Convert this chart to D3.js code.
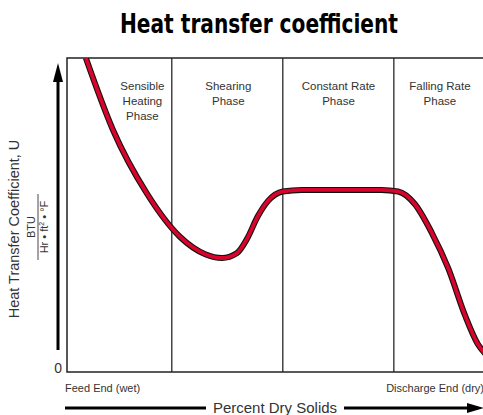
<!DOCTYPE html>
<html>
<head>
<meta charset="utf-8">
<script src="https://cdn.jsdelivr.net/npm/d3@7"></script>
<style>
  body { margin: 0; background: #fff; }
  text { font-family: "Liberation Sans", Arial, sans-serif; }
</style>
</head>
<body>
<script>
// chart size
var width = 483;
var height = 415;

// phases along the dryer (percent dry solids)
var phaseNames = [["Sensible", "Heating", "Phase"], ["Shearing", "Phase"], ["Constant Rate", "Phase"], ["Falling Rate", "Phase"]];
var phaseBounds = [0, 25, 51.5, 78, 100];
var phaseLabelAt = [18, 38.5, 64.8, 89];

// heat transfer coefficient curve
var solids = [4.5, 11, 19, 27, 33, 37, 40.5, 43, 45.5, 48, 51.5, 56, 75, 79, 83, 87, 91, 95, 98, 100];
var coeffU = [100, 77, 57, 43, 37.5, 36.3, 37.8, 42.5, 49.5, 54.5, 57.5, 58, 58, 57.5, 53.5, 44.5, 33, 18, 9, 5.5];

var yTicks = [0];

var x = d3.scaleLinear().domain([0, 100]).range([67, 486]);
var y = d3.scaleLinear().domain([0, 100]).range([372, 58]);

var svg = d3.select("body")
    .append("svg")
    .attr("width", width)
    .attr("height", height);

// title
svg.append("text")
    .attr("x", 259)
    .attr("y", 33)
    .attr("text-anchor", "middle")
    .attr("font-size", 26)
    .attr("font-weight", "bold")
    .style("font-family", "'Liberation Sans Narrow', 'DejaVu Sans Condensed', sans-serif")
    .attr("textLength", 278)
    .attr("lengthAdjust", "spacingAndGlyphs")
    .text("Heat transfer coefficient");

svg.append("defs").append("clipPath")
    .attr("id", "plotclip")
    .append("rect")
    .attr("x", x(0))
    .attr("y", y(100))
    .attr("width", x(100) - x(0))
    .attr("height", y(0) - y(100));

// phase dividers
svg.selectAll("line.divider")
    .data(phaseBounds.slice(1, -1))
    .enter()
    .append("line")
    .attr("class", "divider")
    .attr("x1", function (d) { return x(d); })
    .attr("x2", function (d) { return x(d); })
    .attr("y1", y(100))
    .attr("y2", y(0))
    .style("stroke", "#444")
    .style("stroke-width", 1.5);

// frame
svg.append("rect")
    .attr("x", x(0))
    .attr("y", y(100))
    .attr("width", x(100) - x(0))
    .attr("height", y(0) - y(100))
    .style("fill", "none")
    .style("stroke", "#222")
    .style("stroke-width", 1.5);

// phase labels
phaseNames.forEach(function (lines, i) {
    var cx = x(phaseLabelAt[i]);
    var t = svg.append("text")
        .attr("x", cx)
        .attr("y", 90)
        .attr("text-anchor", "middle")
        .attr("font-size", 11.5)
        .style("fill", "#333");
    lines.forEach(function (l, j) {
        t.append("tspan")
            .attr("x", cx)
            .attr("dy", j == 0 ? 0 : 15)
            .text(l);
    });
});

// the curve: black outline under red line
var line = d3.line()
    .x(function (d, i) { return x(solids[i]); })
    .y(function (d, i) { return y(coeffU[i]); })
    .curve(d3.curveMonotoneX);

var g = svg.append("g").attr("clip-path", "url(#plotclip)");
g.append("path")
    .attr("d", line(solids))
    .style("fill", "none")
    .style("stroke", "#111")
    .style("stroke-width", 6)
    .style("stroke-linejoin", "round");
g.append("path")
    .attr("d", line(solids))
    .style("fill", "none")
    .style("stroke", "#d9042b")
    .style("stroke-width", 3.8)
    .style("stroke-linejoin", "round");

// y axis tick "0"
var yAxis = d3.axisLeft(y).tickValues(yTicks).tickSize(0).tickPadding(5);
var ya = svg.append("g")
    .attr("transform", "translate(" + x(0) + ",0)")
    .call(yAxis);
ya.select(".domain").remove();
ya.selectAll("text")
    .attr("font-size", 14)
    .attr("dy", "0.05em")
    .style("font-family", "'Liberation Sans', Arial, sans-serif")
    .style("fill", "#333");

// vertical arrow
svg.append("line")
    .attr("x1", 58).attr("x2", 58)
    .attr("y1", 350).attr("y2", 78)
    .style("stroke", "#000")
    .style("stroke-width", 3);
svg.append("path")
    .attr("d", "M58,63 L63,82 L53,82 Z")
    .style("fill", "#000");

// y label
var yl = svg.append("g").attr("transform", "translate(19,229) rotate(-90)");
yl.append("text")
    .attr("text-anchor", "middle")
    .attr("font-size", 14.5)
    .style("fill", "#333")
    .text("Heat Transfer Coefficient, U");

var fr = svg.append("g").attr("transform", "translate(38,227) rotate(-90)");
fr.append("text")
    .attr("x", 0)
    .attr("y", -3)
    .attr("text-anchor", "middle")
    .attr("font-size", 11)
    .style("fill", "#333")
    .text("BTU");
fr.append("line")
    .attr("x1", -33).attr("x2", 33)
    .attr("y1", 0).attr("y2", 0)
    .style("stroke", "#333")
    .style("stroke-width", 0.9);
var den = fr.append("text")
    .attr("x", 0)
    .attr("y", 10)
    .attr("text-anchor", "middle")
    .attr("font-size", 11)
    .style("fill", "#333");
den.append("tspan").text("Hr \u2022 ft");
den.append("tspan").attr("font-size", 7).attr("dy", -4).text("2");
den.append("tspan").attr("dy", 4).text(" \u2022 \u00b0F");

// x end labels
svg.append("text")
    .attr("x", 65)
    .attr("y", 392)
    .attr("font-size", 11)
    .style("fill", "#333")
    .text("Feed End (wet)");
svg.append("text")
    .attr("x", 484)
    .attr("y", 392)
    .attr("text-anchor", "end")
    .attr("font-size", 11)
    .style("fill", "#333")
    .text("Discharge End (dry)");

// bottom arrow with label
svg.append("line")
    .attr("x1", 65).attr("x2", 206)
    .attr("y1", 408).attr("y2", 408)
    .style("stroke", "#000")
    .style("stroke-width", 3);
svg.append("line")
    .attr("x1", 344).attr("x2", 470)
    .attr("y1", 408).attr("y2", 408)
    .style("stroke", "#000")
    .style("stroke-width", 3);
svg.append("path")
    .attr("d", "M484,408 L467,403 L467,413 Z")
    .style("fill", "#000");
svg.append("text")
    .attr("x", 275)
    .attr("y", 413)
    .attr("text-anchor", "middle")
    .attr("font-size", 15)
    .style("fill", "#333")
    .text("Percent Dry Solids");
</script>
</body>
</html>
